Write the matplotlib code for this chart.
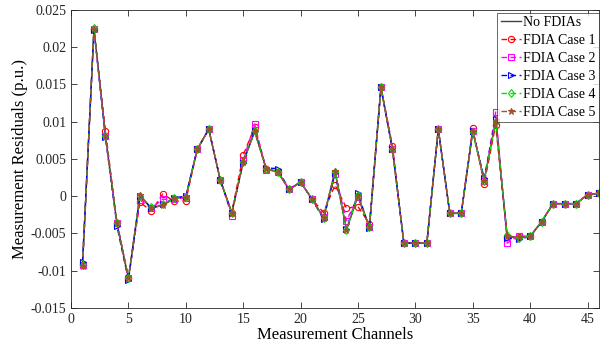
import matplotlib
matplotlib.use("Agg")
import matplotlib.pyplot as plt
import numpy as np

plt.rcParams['font.family'] = ['Liberation Serif', 'DejaVu Serif']
plt.rcParams['axes.unicode_minus'] = False

channels = list(range(1, 47))

no_fdia = [-0.0093, 0.0225, 0.0081, -0.0036, -0.0110, 0.0001, -0.0016, -0.0012, -0.0003, -0.0001,
           0.0063, 0.0090, 0.0022, -0.0022, 0.0046, 0.0087, 0.0037, 0.0033, 0.0009, 0.0019,
           -0.0004, -0.0029, 0.0034, -0.0045, 0.0000, -0.0042, 0.0146, 0.0064, -0.0063, -0.0063,
           -0.0063, 0.0090, -0.0023, -0.0023, 0.0088, 0.0021, 0.0101, -0.0054, -0.0055, -0.0054,
           -0.0034, -0.0010, -0.0010, -0.0010, 0.0002, 0.0004]
case1 = [-0.0093, 0.0225, 0.0088, -0.0036, -0.0110, -0.0008, -0.0020, 0.0003, -0.0007, -0.0006,
         0.0063, 0.0090, 0.0022, -0.0022, 0.0055, 0.0093, 0.0036, 0.0033, 0.0009, 0.0019,
         -0.0004, -0.0022, 0.0015, -0.0016, -0.0014, -0.0037, 0.0147, 0.0068, -0.0063, -0.0063,
         -0.0063, 0.0090, -0.0023, -0.0023, 0.0091, 0.0017, 0.0096, -0.0055, -0.0055, -0.0054,
         -0.0034, -0.0010, -0.0010, -0.0010, 0.0002, 0.0004]
case2 = [-0.0093, 0.0225, 0.0081, -0.0036, -0.0110, -0.0005, -0.0016, -0.0004, -0.0004, -0.0002,
         0.0063, 0.0090, 0.0022, -0.0026, 0.0048, 0.0097, 0.0035, 0.0033, 0.0009, 0.0019,
         -0.0004, -0.0028, 0.0030, -0.0033, -0.0001, -0.0041, 0.0146, 0.0064, -0.0063, -0.0063,
         -0.0063, 0.0090, -0.0023, -0.0023, 0.0088, 0.0020, 0.0113, -0.0063, -0.0053, -0.0054,
         -0.0034, -0.0010, -0.0010, -0.0010, 0.0002, 0.0004]
case3 = [-0.0088, 0.0223, 0.0079, -0.0040, -0.0113, 0.0000, -0.0016, -0.0011, -0.0002, 0.0000,
         0.0063, 0.0090, 0.0022, -0.0023, 0.0045, 0.0088, 0.0038, 0.0037, 0.0009, 0.0019,
         -0.0004, -0.0031, 0.0031, -0.0044, 0.0004, -0.0043, 0.0146, 0.0063, -0.0063, -0.0063,
         -0.0063, 0.0090, -0.0023, -0.0023, 0.0087, 0.0024, 0.0104, -0.0056, -0.0058, -0.0054,
         -0.0035, -0.0010, -0.0010, -0.0010, 0.0002, 0.0004]
case4 = [-0.0093, 0.0226, 0.0081, -0.0036, -0.0110, 0.0000, -0.0015, -0.0011, -0.0003, -0.0001,
         0.0063, 0.0090, 0.0022, -0.0022, 0.0046, 0.0087, 0.0037, 0.0033, 0.0009, 0.0019,
         -0.0004, -0.0029, 0.0032, -0.0045, 0.0002, -0.0042, 0.0146, 0.0064, -0.0063, -0.0063,
         -0.0063, 0.0090, -0.0023, -0.0023, 0.0086, 0.0021, 0.0101, -0.0052, -0.0056, -0.0054,
         -0.0034, -0.0010, -0.0010, -0.0010, 0.0002, 0.0004]
case5 = [-0.0094, 0.0225, 0.0081, -0.0036, -0.0110, 0.0001, -0.0016, -0.0012, -0.0003, -0.0001,
         0.0063, 0.0090, 0.0022, -0.0022, 0.0046, 0.0087, 0.0037, 0.0033, 0.0009, 0.0019,
         -0.0004, -0.0029, 0.0034, -0.0045, 0.0000, -0.0042, 0.0146, 0.0064, -0.0063, -0.0063,
         -0.0063, 0.0090, -0.0023, -0.0023, 0.0088, 0.0021, 0.0101, -0.0054, -0.0055, -0.0054,
         -0.0034, -0.0010, -0.0010, -0.0010, 0.0002, 0.0004]

labels = ['No FDIAs', 'FDIA Case 1', 'FDIA Case 2', 'FDIA Case 3', 'FDIA Case 4', 'FDIA Case 5']
yticks = [-0.015, -0.01, -0.005, 0, 0.005, 0.01, 0.015, 0.02, 0.025]
ytick_labels = ['-0.015', '-0.01', '-0.005', '0', '0.005', '0.01', '0.015', '0.02', '0.025']
xticks = [0, 5, 10, 15, 20, 25, 30, 35, 40, 45]

fig = plt.figure(figsize=(6.02, 3.56), dpi=100)
ax = fig.add_axes([0.118, 0.135, 0.877, 0.837])

ax.plot(channels, no_fdia, '-', color='#404040', lw=1.0, label=labels[0])
styles = [
    (case1, 'o', '#ff0000'),
    (case2, 's', '#ff00ff'),
    (case3, '>', '#0000ff'),
    (case4, 'd', '#00dd00'),
    (case5, '*', '#a0522d'),
]
for (vals, mk, col), lab in zip(styles, labels[1:]):
    ax.plot(channels, vals, '--', color=col, lw=1.0, marker=mk, markersize=4.5,
            markerfacecolor='none' if mk != '*' else col, markeredgewidth=0.8,
            dashes=(4, 2.5), label=lab)

ax.set_xlim(0, 46)
ax.set_ylim(-0.015, 0.025)
ax.set_xticks(xticks)
ax.set_yticks(yticks)
ax.set_yticklabels(ytick_labels)
ax.tick_params(direction='in', top=True, right=True, labelsize=10, length=4,
               width=0.6, colors='#262626')
for sp in ax.spines.values():
    sp.set_color('#262626')
    sp.set_linewidth(0.6)
ax.set_xlabel('Measurement Channels', fontsize=12, labelpad=1)
ax.set_ylabel('Measurement Residuals (p.u.)', fontsize=12, labelpad=2)

leg = ax.legend(loc='upper right', bbox_to_anchor=(1.0, 1.0 - 3.0 / 298.0),
                fontsize=10, frameon=True, fancybox=False,
                borderaxespad=0.0, borderpad=0.22, handlelength=1.45, handletextpad=0.2,
                labelspacing=0.36)
leg.get_frame().set_edgecolor('#262626')
leg.get_frame().set_linewidth(0.6)

fig.savefig('out.png', dpi=100)
